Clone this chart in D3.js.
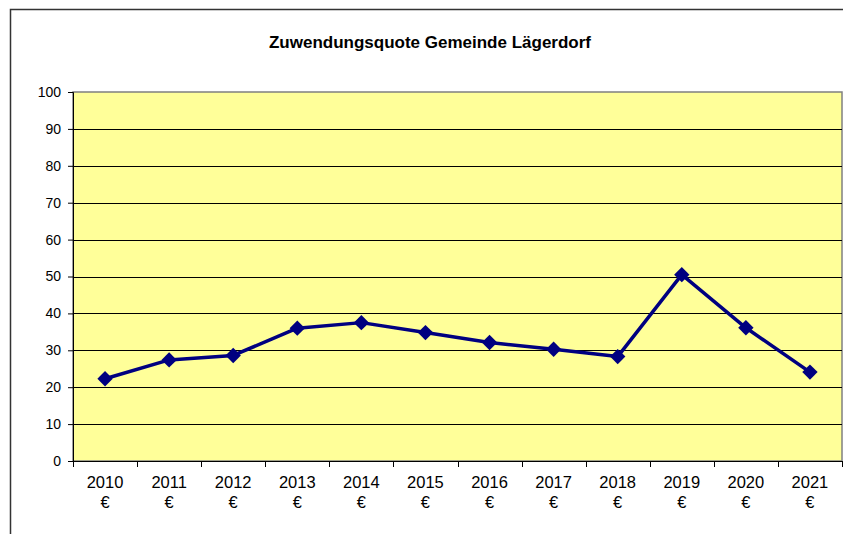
<!DOCTYPE html>
<html>
<head>
<meta charset="utf-8">
<script src="https://cdn.jsdelivr.net/npm/d3@7"></script>
<style>
  body { margin: 0; background: #fff; }
  text { font-family: "Liberation Sans", Arial, sans-serif; fill: #000; }
</style>
</head>
<body>
<svg></svg>
<script>
// data
const years = ['2010', '2011', '2012', '2013', '2014', '2015', '2016', '2017', '2018', '2019', '2020', '2021'];
const quote = [22.3, 27.4, 28.6, 36.0, 37.5, 34.8, 32.1, 30.3, 28.3, 50.5, 36.1, 24.1];
const yTicks = [0, 10, 20, 30, 40, 50, 60, 70, 80, 90, 100];

const size = {w: 843, h: 534};
const plot = {l: 73, t: 92, r: 842, b: 461};
const svg = d3.select('svg').attr('width', size.w).attr('height', size.h);

// outer chart frame (runs off the right and bottom edge)
svg.append('rect')
    .attr('x', 10.5).attr('y', 9.5)
    .attr('width', 900).attr('height', 600)
    .attr('fill', '#fff')
    .attr('stroke', '#333').attr('stroke-width', 1.5);

svg.append('text')
    .attr('x', 430).attr('y', 48)
    .attr('text-anchor', 'middle')
    .style('font-size', '17px').style('font-weight', 'bold')
    .text('Zuwendungsquote Gemeinde Lägerdorf');

let x = d3.scaleBand().domain(years).range([plot.l, plot.r]);
let y = d3.scaleLinear().domain([0, 100]).range([plot.b, plot.t]);

svg.append('rect')
    .attr('x', plot.l).attr('y', plot.t)
    .attr('width', plot.r - plot.l).attr('height', plot.b - plot.t)
    .attr('fill', '#ffff99')
    .attr('stroke', '#808080').attr('stroke-width', 1.5);

// horizontal gridlines
svg.append('g').selectAll('line')
    .data(yTicks.filter(d => d > 0 && d < 100))
    .enter().append('line')
    .attr('x1', plot.l).attr('x2', plot.r)
    .attr('y1', d => Math.round(y(d)) + 0.5).attr('y2', d => Math.round(y(d)) + 0.5)
    .attr('stroke', '#000').attr('stroke-width', 1);

// y axis
let yAxis = svg.append('g')
    .attr('transform', `translate(${plot.l},0)`)
    .call(d3.axisLeft(y).tickValues(yTicks).tickSize(5).tickPadding(7));
yAxis.selectAll('text').style('font-size', '14px').attr('font-family', null);
yAxis.selectAll('line,path').attr('stroke', '#000');

// x axis, ticks between categories
let xAxis = svg.append('g').attr('transform', `translate(0,${plot.b})`);
xAxis.append('line')
    .attr('x1', plot.l).attr('x2', plot.r)
    .attr('y1', 0.5).attr('y2', 0.5).attr('stroke', '#000');
xAxis.selectAll('line.tick')
    .data(years.concat(['end']))
    .enter().append('line').classed('tick', true)
    .attr('x1', (d, i) => Math.round(plot.l + i * x.bandwidth()) + 0.5)
    .attr('x2', (d, i) => Math.round(plot.l + i * x.bandwidth()) + 0.5)
    .attr('y1', 0).attr('y2', 6)
    .attr('stroke', '#000');
let lbl = xAxis.selectAll('text')
    .data(years)
    .enter().append('text')
    .attr('text-anchor', 'middle')
    .style('font-size', '16.5px');
lbl.append('tspan')
    .attr('x', d => x(d) + x.bandwidth() / 2).attr('y', 27)
    .text(d => d);
lbl.append('tspan')
    .attr('x', d => x(d) + x.bandwidth() / 2).attr('y', 47)
    .text('€');

// line + diamond markers
let line = d3.line()
    .x((d, i) => x(years[i]) + x.bandwidth() / 2)
    .y(d => y(d));

svg.append('path')
    .datum(quote)
    .attr('d', line)
    .attr('fill', 'none')
    .attr('stroke', '#000080').attr('stroke-width', 3.5)
    .attr('stroke-linejoin', 'round');

svg.append('g').selectAll('path')
    .data(quote)
    .enter().append('path')
    .attr('d', d3.symbol().type(d3.symbolSquare).size(118))
    .attr('transform', (d, i) => `translate(${x(years[i]) + x.bandwidth() / 2},${y(d)}) rotate(45)`)
    .attr('fill', '#000080');
</script>
</body>
</html>
